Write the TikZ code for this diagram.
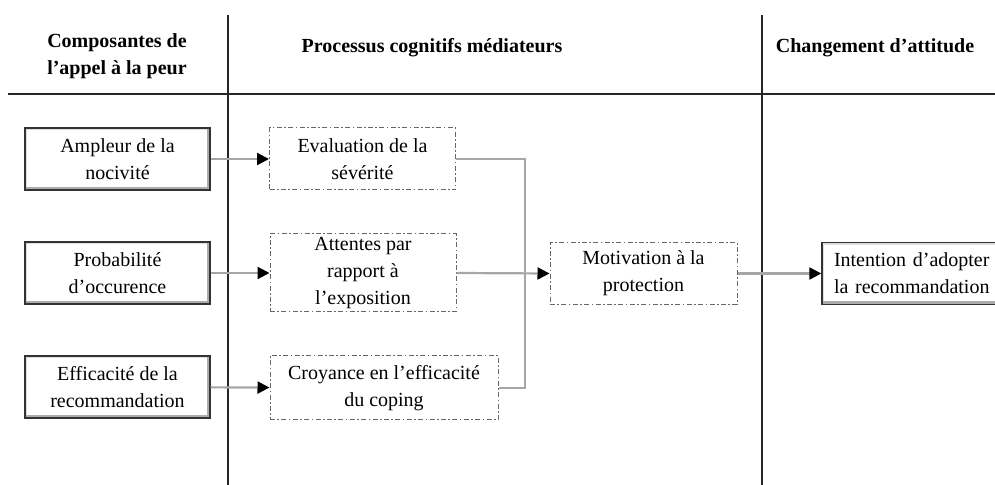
\documentclass[tikz,border=0pt]{standalone}
\usepackage{fontspec}
\setmainfont{Liberation Serif}
\usetikzlibrary{arrows.meta}
\def\axiscol{black!85}
\tikzset{
  every node/.style={font=\fontsize{10}{13.5}\selectfont, align=center, inner sep=0pt},
  head/.style={font=\fontsize{10}{13.5}\selectfont\bfseries},
  bevelbox/.style={draw=black!80, line width=0.7pt, fill=white,
    minimum width=92.5pt, minimum height=31pt,
    path picture={
      \draw[gray!25, line width=2.4pt] (path picture bounding box.south west) -- (path picture bounding box.north west) -- (path picture bounding box.north east);
      \draw[gray!65, line width=3pt] (path picture bounding box.south west) -- (path picture bounding box.south east) -- (path picture bounding box.north east);
    }},
  procbox/.style={draw=black!60, line width=0.5pt, dash pattern=on 2.5pt off 1.2pt on 0.8pt off 1.2pt,
    minimum width=93pt, minimum height=31pt},
  line/.style={draw=gray!70, line width=1.1pt},
  conn/.style={line, -{Triangle[black, length=6pt, width=6pt]}}
}
\begin{document}
\begin{tikzpicture}[x=0.5pt, y=-0.5pt]
  \useasboundingbox (0,0) rectangle (995,485);
  % axes of the table
  \draw[\axiscol, line width=1.1pt] (8,94) -- (995,94);
  \draw[\axiscol, line width=1.1pt] (228,15) -- (228,485);
  \draw[\axiscol, line width=1.1pt] (762,15) -- (762,485);
  % headings
  \node[head] (h1) at (117,56) {Composantes de\\l'appel à la peur};
  \node[head] (h2) at (432,48) {Processus cognitifs médiateurs};
  \node[head] (h3) at (875,48) {Changement d'attitude};
  % components
  \node[bevelbox] (ampleur) at (117.5,159) {Ampleur de la\\nocivité};
  \node[bevelbox] (proba) at (117.5,273) {Probabilité\\d'occurence};
  \node[bevelbox] (effic) at (117.5,387) {Efficacité de la\\recommandation};
  % mediating processes
  \node[procbox] (severite) at (362.5,159) {Evaluation de la\\sévérité};
  \node[procbox, minimum height=39pt] (attentes) at (363,273) {Attentes par\\rapport à\\l'exposition};
  \node[procbox, minimum width=114pt, minimum height=32pt] (coping) at (384,388) {Croyance en l'efficacité\\du coping};
  \node[procbox, minimum width=93.5pt] (motiv) at (643.5,273.5) {Motivation à la\\protection};
  % attitude change
  \node[bevelbox, minimum width=92pt, text width=80pt, align=left] (intention) at (914,273.5) {Intention d'adopter\\la recommandation};
  \coordinate (join) at (525,273);
  % connectors
  \draw[conn] (ampleur) -- (severite);
  \draw[conn] (proba) -- (attentes);
  \draw[conn] (effic) -- (coping);
  \draw[line] (severite.east) -| (join);
  \draw[line] (coping.east) -| (join);
  \draw[conn] (attentes.east) -- (motiv.west);
  \draw[conn] (motiv) -- (intention);
\end{tikzpicture}
\end{document}
